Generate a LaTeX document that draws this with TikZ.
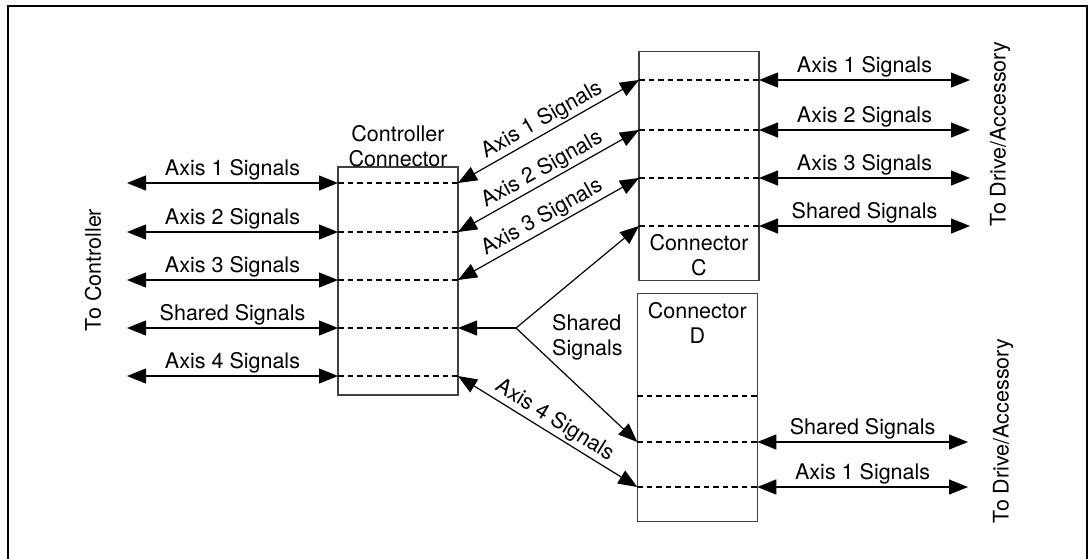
\documentclass[tikz,border=0pt]{standalone}
\usepackage{fontspec}
\setmainfont{TeX Gyre Heros}
\usetikzlibrary{arrows.meta,positioning}
\tikzset{
  conn/.style={
    rectangle,
    draw=black!75,
    line width=1.4pt,
    minimum width=120pt,
    minimum height=228pt,
    inner sep=0pt
    },
  port/.style={line width=2.2pt, dash pattern=on 5.5pt off 4pt},
  bigtip/.tip={Triangle[length=19pt,width=15pt]},
  sig/.style={line width=1.2pt, {bigtip}-{bigtip}},
  lbl/.style={inner sep=2pt, font=\fontsize{21.5}{25}\selectfont},
}

\begin{document}
\begin{tikzpicture}[x=1pt,y=-1pt]
    \useasboundingbox (0,0) rectangle (1088,558);
    \draw[line width=2pt] (8,5.5) rectangle (1087,562);

    % Draw the connector boxes
    \node[conn] (CC) at (398,281) {};
    \node[conn, minimum height=229pt] (C) at (699,166.2) {};
    \node[conn] (D) at (697.3,407.5) {};

    \node[lbl, align=center, above=-3pt of CC] {Controller\\Connector};
    \node[lbl, align=center, below=4pt of C.north, yshift=-177pt] {Connector\\C};
    \node[lbl, align=center, below=7pt of D.north] {Connector\\D};

    % Controller connector ports and signals to the controller
    \foreach \i/\y/\txt in {1/183/Axis 1 Signals,2/232/Axis 2 Signals,3/280/Axis 3 Signals,4/328/Shared Signals,5/376/Axis 4 Signals}
    {
        \coordinate (CL-\i) at (338,\y);
        \coordinate (CR-\i) at (458,\y);
        \coordinate (TL-\i) at (127,\y);
        \draw[port] (CL-\i) -- (CR-\i);
        \draw[sig] (TL-\i) -- node[lbl, above] {\txt} (CL-\i);
    }

    % Connector C ports and signals to the drive
    \foreach \i/\y/\txt in {1/80/Axis 1 Signals,2/130/Axis 2 Signals,3/178/Axis 3 Signals,4/226/Shared Signals}
    {
        \coordinate (CL-C\i) at (639,\y);
        \coordinate (CR-C\i) at (759,\y);
        \coordinate (TR-C\i) at (970,\y);
        \draw[port] (CL-C\i) -- (CR-C\i);
        \draw[sig] (CR-C\i) -- node[lbl, above] {\txt} (TR-C\i);
    }

    % Connector D ports
    \foreach \i/\y in {1/396,2/442,3/487}
    {
        \coordinate (DL-\i) at (637.3,\y);
        \coordinate (DR-\i) at (757.3,\y);
        \draw[port] (DL-\i) -- (DR-\i);
    }
    \coordinate (TR-D2) at (968,442);
    \coordinate (TR-D3) at (968,487);
    \draw[sig] (DR-2) -- node[lbl, above] {Shared Signals} (TR-D2);
    \draw[sig] (DR-3) -- node[lbl, above] {Axis 1 Signals} (TR-D3);

    % Signals between the controller connector and connectors C and D
    \draw[sig] (CR-1) -- node[lbl, above, sloped] {Axis 1 Signals} (CL-C1);
    \draw[sig] (CR-2) -- node[lbl, above, sloped] {Axis 2 Signals} (CL-C2);
    \draw[sig] (CR-3) -- node[lbl, above, sloped] {Axis 3 Signals} (CL-C3);
    \draw[sig] (CR-5) -- node[lbl, above, sloped] {Axis 4 Signals} (DL-3);

    % Shared signals split
    \coordinate (split) at (516,328);
    \draw[sig, {bigtip}-] (CR-4) -- (split);
    \draw[sig, -{bigtip}] (split) -- (CL-C4);
    \draw[sig, -{bigtip}] (split) -- (DL-2);
    \node[lbl, align=left, anchor=west] (sh) at (550,337) {Shared\\Signals};

    % Annotate the ends
    \node[lbl, rotate=90] (tc) at (93,270) {To Controller};
    \node[lbl, rotate=90] (td1) at (1000,134) {To Drive/Accessory};
    \node[lbl, rotate=90] (td2) at (1003,431) {To Drive/Accessory};
\end{tikzpicture}
\end{document}
